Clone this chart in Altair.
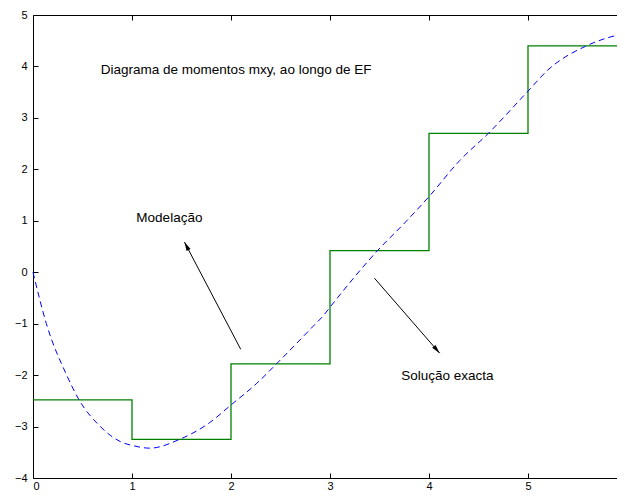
import altair as alt
import pandas as pd

# Data
step_x = [0, 1, 2, 3, 4, 5, 6]
step_y = [-2.48, -3.25, -1.78, 0.42, 2.70, 4.40, 4.40]

exact_x = [0, 0.135, 0.34, 0.465, 0.68, 0.78, 0.88, 1.03, 1.18, 1.48, 1.78, 2.0, 2.26,
           2.46, 2.83, 2.93, 3.0, 3.48, 3.77, 4.0, 4.31, 4.6, 5.0, 5.2, 5.59, 5.95, 6.0]
exact_y = [0, -1.0, -2.0, -2.48, -3.0, -3.17, -3.29, -3.38, -3.42, -3.25, -2.93, -2.58, -2.16,
           -1.78, -1.05, -0.85, -0.68, 0.42, 0.99, 1.47, 2.17, 2.70, 3.52, 3.93, 4.40, 4.63, 4.65]

label_text = ["Diagrama de momentos mxy, ao longo de EF", "Modelação", "Solução exacta"]
label_x = [0.685, 1.044, 3.72]
label_y = [3.848, 0.968, -2.095]

arrow_x = [2.098, 3.449]
arrow_y = [-1.497, -0.116]
arrow_x2 = [1.530, 4.108]
arrow_y2 = [0.586, -1.574]
arrow_angle = [332.8, 139.6]

x_ticks = [0, 1, 2, 3, 4, 5, 6]
y_ticks = [-4, -3, -2, -1, 0, 1, 2, 3, 4, 5]

W, H = 594, 463
FONT = "Liberation Sans"

step_df = pd.DataFrame({"x": step_x, "y": step_y})
exact_df = pd.DataFrame({"x": exact_x, "y": exact_y})
label_df = pd.DataFrame({"t": label_text, "x": label_x, "y": label_y})
arrow_df = pd.DataFrame({"x": arrow_x, "y": arrow_y, "x2": arrow_x2, "y2": arrow_y2,
                         "a": arrow_angle})

xs = alt.Scale(domain=[0, 6], nice=False, zero=False)
ys = alt.Scale(domain=[-4, 5], nice=False, zero=False)

tick_axis = dict(labels=False, domain=False, ticks=True, tickSize=5, tickColor="black",
                 grid=False, title=None)

step = alt.Chart(step_df).mark_line(interpolate="step-after", color="#008000",
                                    strokeWidth=1.3).encode(
    x=alt.X("x:Q", scale=xs, axis=alt.Axis(orient="bottom", values=x_ticks, ticks=False,
                                           domain=False, labelPadding=2, title=None,
                                           format="d")),
    y=alt.Y("y:Q", scale=ys, axis=alt.Axis(orient="left", values=y_ticks, ticks=False,
                                           domain=False, labelPadding=6, title=None,
                                           format="d")),
)

exact = alt.Chart(exact_df).mark_line(interpolate="monotone", color="#0000ff",
                                      strokeWidth=1, strokeDash=[6, 4]).encode(
    x=alt.X("x:Q", scale=xs, axis=alt.Axis(orient="top", offset=-H, values=x_ticks, **tick_axis)),
    y=alt.Y("y:Q", scale=ys, axis=alt.Axis(orient="right", offset=-W, values=y_ticks, **tick_axis)),
)

labels = alt.Chart(label_df).mark_text(align="left", baseline="alphabetic", font=FONT,
                                       fontSize=13.5, color="black").encode(
    x=alt.X("x:Q", scale=xs, axis=alt.Axis(orient="bottom", offset=-H, values=x_ticks, **tick_axis)),
    y=alt.Y("y:Q", scale=ys, axis=alt.Axis(orient="left", offset=-W, values=y_ticks, **tick_axis)),
    text="t:N",
)

arrows = alt.Chart(arrow_df).mark_rule(color="black", strokeWidth=1).encode(
    x=alt.X("x:Q", scale=xs, axis=None),
    y=alt.Y("y:Q", scale=ys, axis=None),
    x2="x2:Q",
    y2="y2:Q",
)

heads = alt.Chart(arrow_df).mark_point(shape="M0,0L-0.25,1L0.25,1Z", filled=True,
                                       color="black", opacity=1, size=324,
                                       strokeWidth=0).encode(
    x=alt.X("x2:Q", scale=xs, axis=None),
    y=alt.Y("y2:Q", scale=ys, axis=None),
    angle=alt.Angle("a:Q", scale=None),
)

chart = alt.layer(step, exact, labels, arrows, heads).resolve_axis(
    x="independent", y="independent"
).properties(
    width=W, height=H,
    autosize=alt.AutoSizeParams(type="none"),
    padding={"left": 25, "top": 7, "right": -10, "bottom": 14},
).configure_view(
    stroke="black", strokeWidth=1
).configure_axis(
    labelFont=FONT, labelFontSize=11, labelColor="black", grid=False
)

chart.save("out.html", embed_options={"renderer": "svg", "actions": False})
